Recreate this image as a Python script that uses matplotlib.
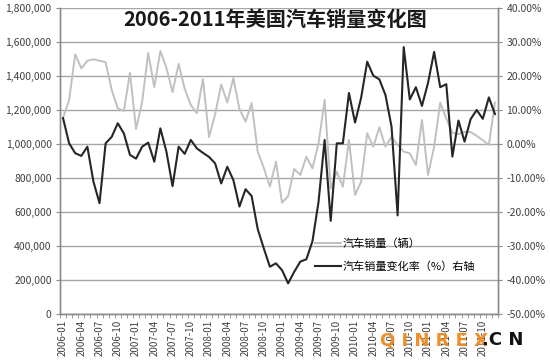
"""US monthly auto sales 2006-2011 with year-over-year change on a secondary axis."""

import matplotlib

matplotlib.use("Agg")
import matplotlib.pyplot as plt
from matplotlib.ticker import FuncFormatter, MultipleLocator

plt.rcParams["font.family"] = ["Noto Sans CJK SC", "DejaVu Sans"]

# month labels, 2006-01 .. 2011-12
months = [f"{y}-{m:02d}" for y in range(2006, 2012) for m in range(1, 13)]

# monthly sales (vehicles), left axis
sales = [
    1153000, 1259000, 1528000, 1445000, 1490000, 1498000,
    1490000, 1481000, 1318000, 1210000, 1194000, 1419000,
    1088000, 1247000, 1535000, 1335000, 1547000, 1447000,
    1306000, 1471000, 1324000, 1229000, 1182000, 1382000,
    1041000, 1175000, 1350000, 1244000, 1388000, 1205000,
    1132000, 1241000, 955000, 860000, 749000, 896000,
    655000, 694000, 853000, 818000, 925000, 857000,
    1004000, 1259000, 739000, 837000, 749000, 1024000,
    700000, 778000, 1063000, 984000, 1098000, 984000,
    1043000, 994000, 955000, 945000, 876000, 1141000,
    818000, 984000, 1243000, 1150000, 1065000, 1058000,
    1072000, 1070000, 1048000, 1022000, 994000, 1244000,
]

# year-over-year change (%), right axis
change_pct = [
    7.6, 0.2, -2.7, -3.5, -0.8, -11.1,
    -17.4, 0.2, 2.1, 6.1, 3.1, -3.2,
    -4.3, -0.8, 0.4, -5.2, 4.6, -2.3,
    -12.4, -0.8, -2.9, 1.2, -1.3, -2.6,
    -3.8, -5.7, -11.6, -6.7, -10.6, -18.4,
    -13.3, -15.3, -25.0, -30.7, -36.1, -35.1,
    -37.1, -41.0, -37.6, -34.6, -33.9, -28.6,
    -17.0, 1.2, -22.6, 0.2, 0.2, 15.0,
    6.3, 13.6, 24.2, 20.1, 19.0, 14.4,
    5.1, -21.0, 28.5, 13.1, 16.7, 11.2,
    18.0, 27.1, 16.7, 17.6, -3.7, 6.9,
    0.7, 7.3, 10.0, 7.4, 13.7, 8.8,
]

title = "2006-2011年美国汽车销量变化图"
label_sales = "汽车销量（辆）"
label_change = "汽车销量变化率（%）右轴"

TICK_COLOR = "#404040"
GRID_COLOR = "#a6a6a6"

fig = plt.figure(figsize=(5.5, 3.62), dpi=100)
ax = fig.add_axes([60 / 550, 1 - 314 / 362, 438 / 550, 306 / 362])
ax2 = ax.twinx()

x = list(range(len(months)))
l1, = ax.plot(x, sales, color="#c0c0c0", lw=1.4, label=label_sales)
l2, = ax2.plot(x, change_pct, color="#262626", lw=1.5, label=label_change)

ax.set_xlim(-0.5, len(months) - 0.5)
ax.set_ylim(0, 1800000)
ax2.set_ylim(-50, 40)

ax.yaxis.set_major_locator(MultipleLocator(200000))
ax.yaxis.set_major_formatter(FuncFormatter(lambda v, _: f"{v:,.0f}"))
ax2.yaxis.set_major_locator(MultipleLocator(10))
ax2.yaxis.set_major_formatter(FuncFormatter(lambda v, _: f"{v:.2f}%"))

ax.set_xticks(x[::3])
ax.set_xticklabels(months[::3], rotation=90)
ax.set_xticks([i - 0.5 for i in range(len(months) + 1)], minor=True)

ax.grid(axis="y", color=GRID_COLOR, lw=1.0)
ax.set_axisbelow(True)

for a in (ax, ax2):
    a.spines["top"].set_visible(False)
    for s in ("left", "right", "bottom"):
        a.spines[s].set_color("#8c8c8c")
        a.spines[s].set_linewidth(1.0)
ax.tick_params(axis="x", which="major", length=0, pad=4, labelsize=7, labelcolor=TICK_COLOR)
ax.tick_params(axis="x", which="minor", length=3, color="#8c8c8c")
ax.tick_params(axis="y", length=3, color="#8c8c8c", labelsize=7.5, labelcolor=TICK_COLOR, pad=3)
ax2.tick_params(axis="y", length=3, color="#8c8c8c", labelsize=7.5, labelcolor=TICK_COLOR, pad=3)

ax2.legend(
    handles=[l1, l2],
    loc="upper left",
    bbox_to_anchor=(251 / 438, 80 / 306),
    frameon=False,
    fontsize=8,
    handlelength=2.3,
    handletextpad=0.15,
    labelspacing=1.05,
    borderaxespad=0,
)

fig.text(275 / 550, 1 - 19 / 362, title, ha="center", va="center",
         fontsize=14.5, fontweight="bold", color="#1a1a1a")

# site watermark in the bottom right corner
fig.text(380 / 550, 1 - 340 / 362, "Q I N R E X", ha="left", va="center",
         fontsize=13, fontweight="bold", color="#f08a1e", family="DejaVu Sans", alpha=0.95)
fig.text(482 / 550, 1 - 340 / 362, ".C N", ha="left", va="center",
         fontsize=13, fontweight="bold", color="#111111", family="DejaVu Sans")

fig.savefig("out.png", dpi=100)
plt.close(fig)
